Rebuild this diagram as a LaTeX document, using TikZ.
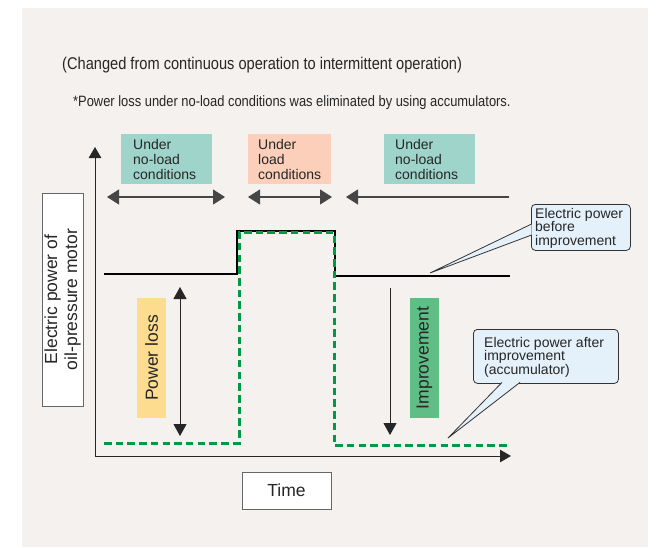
\documentclass[tikz,border=0pt]{standalone}
\usepackage{fontspec}
\setmainfont{Liberation Sans}
\setsansfont{Liberation Sans}
\newfontfamily\condfont[FakeStretch=0.86]{Liberation Sans}
\usetikzlibrary{arrows.meta}

\definecolor{paper}{RGB}{245,241,238}
\definecolor{tealbox}{RGB}{159,212,202}
\definecolor{peachbox}{RGB}{251,207,185}
\definecolor{yellowbox}{RGB}{252,220,142}
\definecolor{greenbox}{RGB}{95,190,134}
\definecolor{dashgreen}{RGB}{0,154,68}
\definecolor{calloutfill}{RGB}{228,241,251}
\definecolor{linegray}{RGB}{70,70,70}

\tikzset{
  condbox/.style={inner sep=0pt, minimum width=#1, minimum height=50},
  boxtext/.style={inner sep=0pt, anchor=west, align=left,
    font=\fontsize{14}{15}\selectfont, text=black!85},
  spanarrow/.style={draw=linegray, line width=1.1pt,
    -{Triangle[length=12pt,width=15pt]}},
  spandouble/.style={draw=linegray, line width=1.1pt,
    {Triangle[length=12pt,width=15pt]}-{Triangle[length=12pt,width=15pt]}},
  axis/.style={draw=black!85, line width=1pt,
    -{Triangle[length=11pt,width=12.5pt]}},
  vdouble/.style={draw=black!85, line width=1pt,
    {Triangle[length=12pt,width=13pt]}-{Triangle[length=12pt,width=13pt]}},
  vdown/.style={draw=black!85, line width=1pt,
    -{Triangle[length=12pt,width=13pt]}},
  labelbox/.style={draw=black!60, line width=1pt, fill=white, inner sep=0pt},
  tagbox/.style={inner sep=0pt, rotate=90, minimum width=120, minimum height=29,
    font=\fontsize{17.5}{20}\selectfont, text=black!85},
  calloutbox/.style={draw=black!80, line width=0.8pt, fill=calloutfill,
    rounded corners=4pt, inner sep=0pt},
  callouttext/.style={inner sep=0pt, anchor=west, align=left,
    font=\fontsize{14}{13.5}\selectfont, text=black!85},
  pointer/.style={draw=black!80, line width=0.8pt},
  before/.style={draw=black, line width=1.5pt},
  after/.style={draw=dashgreen, line width=3pt, dash pattern=on 7.5pt off 4.2pt},
}

\begin{document}
\begin{tikzpicture}[x=1pt,y=-1pt]
\useasboundingbox (0,0) rectangle (656,547);
\fill[white] (0,0) rectangle (656,547);
\fill[paper] (22,8) rectangle (648,547);

% headings
\node[inner sep=0pt, anchor=base west, font=\condfont\fontsize{17}{19}\selectfont, text=black!85]
  (title) at (62,69) {(Changed from continuous operation to intermittent operation)};
\node[inner sep=0pt, anchor=base west, font=\condfont\fontsize{15}{17}\selectfont, text=black!85]
  (note) at (73,106) {*Power loss under no-load conditions was eliminated by using accumulators.};

% phase boxes
\node[condbox=91, fill=tealbox, anchor=north west] (ph1) at (121,134) {};
\node[boxtext] (ph1t) at ([xshift=12pt]ph1.west) {Under\\no-load\\conditions};
\node[condbox=83, fill=peachbox, anchor=north west] (ph2) at (248,134) {};
\node[boxtext] (ph2t) at ([xshift=10pt]ph2.west) {Under\\load\\conditions};
\node[condbox=91, fill=tealbox, anchor=north west] (ph3) at (384,134) {};
\node[boxtext] (ph3t) at ([xshift=11pt]ph3.west) {Under\\no-load\\conditions};

% phase spans
\coordinate (s1a) at (107,197);
\coordinate (s1b) at (225,197);
\coordinate (s2a) at (248,197);
\coordinate (s2b) at (332,197);
\coordinate (s3a) at (509,197);
\coordinate (s3b) at (346,197);
\draw[spandouble] (s1a) -- (s1b);
\draw[spandouble] (s2a) -- (s2b);
\draw[spanarrow] (s3a) -- (s3b);

% axes
\coordinate (O) at (95,456);
\coordinate (ytop) at (95,147);
\coordinate (xend) at (511,456);
\draw[axis] (O) -- (ytop);
\draw[axis] (O) -- (xend);

\node[labelbox, rotate=90, minimum width=213, minimum height=41, align=center,
  font=\fontsize{17.5}{20}\selectfont, text=black!85] (ylab) at (62.5,299.5)
  {Electric power of\\oil-pressure motor};
\node[labelbox, minimum width=89, minimum height=37,
  font=\fontsize{17.5}{20}\selectfont, text=black!85] (xlab) at (286.5,490.5) {Time};

% power curves
\coordinate (b0) at (104,274);
\coordinate (b1) at (237,274);
\coordinate (b2) at (237,231);
\coordinate (b3) at (335,231);
\coordinate (b4) at (335,276);
\coordinate (b5) at (510,276);
\draw[before] (b0) -- (b1) -- (b2) -- (b3) -- (b4) -- (b5);

\coordinate (g0) at (104,443);
\coordinate (g1) at (239,443);
\coordinate (g2) at (239,232);
\coordinate (g3) at (334,232);
\coordinate (g4) at (334,445);
\coordinate (g5) at (510,445);
\draw[after] (g0) -- (g1) -- (g2) -- (g3) -- (g4) -- (g5);

% power loss and improvement
\node[tagbox, fill=yellowbox] (loss) at (151.5,358) {Power loss};
\coordinate (l0) at (180,287);
\coordinate (l1) at (180,436);
\draw[vdouble] (l0) -- (l1);

\node[tagbox, fill=greenbox] (impr) at (424.5,358) {Improvement};
\coordinate (i0) at (390,288);
\coordinate (i1) at (390,435);
\draw[vdown] (i0) -- (i1);

% callouts
\node[calloutbox, minimum width=99, minimum height=46, anchor=north west] (c1) at (531,204) {};
\node[callouttext] (c1t) at (535,228) {Electric power\\before\\improvement};
\coordinate (c1tip) at (430,273);
\coordinate (c1a) at (531.6,224);
\coordinate (c1b) at (531.6,235);
\fill[calloutfill] (c1tip) -- (c1a) -- (c1b) -- cycle;
\draw[pointer] (c1a) -- (c1tip) -- (c1b);

\node[calloutbox, minimum width=145, minimum height=54, anchor=north west] (c2) at (473,329) {};
\node[callouttext] (c2t) at (484,357) {Electric power after\\improvement\\(accumulator)};
\coordinate (c2tip) at (448,438);
\coordinate (c2a) at (502,382.4);
\coordinate (c2b) at (520,382.4);
\fill[calloutfill] (c2tip) -- (c2a) -- (c2b) -- cycle;
\draw[pointer] (c2a) -- (c2tip) -- (c2b);
\end{tikzpicture}
\end{document}
